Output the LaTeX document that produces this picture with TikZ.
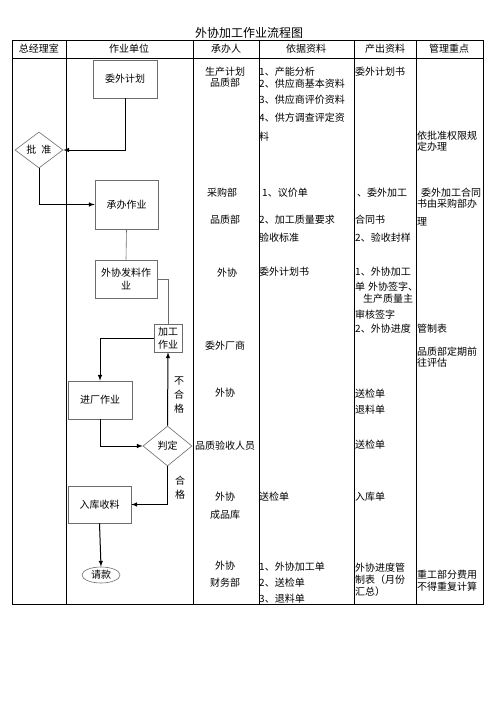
\documentclass[tikz,border=0pt]{standalone}
\usepackage{fontspec}
\setmainfont{Noto Sans CJK SC}
\usepackage{tikz}
\usetikzlibrary{shapes.geometric}

\begin{document}
\begin{tikzpicture}[x=1pt, y=-1pt,
    font=\fontsize{10}{13}\selectfont,
    box/.style={draw=gray!85!black, line width=0.6pt, inner sep=0pt, align=center},
    flow/.style={line width=1pt, -latex},
    link/.style={draw=gray!85!black, line width=0.6pt},
    grid/.style={line width=0.8pt},
    cell/.style={inner sep=0pt, anchor=west},
    who/.style={inner sep=0pt}]
        \useasboundingbox [fill=white] (0,0) rectangle (500,707);

        % title and table
        \node (title) at (249,33) {\fontsize{12}{14}\selectfont 外协加工作业流程图};
        \draw [grid] (12,40) rectangle (483,604);
        \draw [grid] (12,58)  -- (483,58);
        \draw [grid] (66,40)  -- (66,604);
        \draw [grid] (193,40) -- (193,604);
        \draw [grid] (259,40) -- (259,604);
        \draw [grid] (354,40) -- (354,604);
        \draw [grid] (416,40) -- (416,604);

        \node [who] (head1) at (39,49)  {总经理室};
        \node [who] (head2) at (129,49) {作业单位};
        \node [who] (head3) at (226,49) {承办人};
        \node [who] (head4) at (306,49) {依据资料};
        \node [who] (head5) at (385,49) {产出资料};
        \node [who] (head6) at (449,49) {管理重点};

        % flow chart
        \node [box, minimum width=64pt, minimum height=38pt] (plan) at (125,79) {委外计划};
        \node [box, diamond, aspect=1.33, minimum width=48pt, minimum height=36pt] (approve) at (39,150) {批\hspace{5pt}准};
        \node [box, minimum width=63pt, minimum height=49pt] (undertake) at (126.5,204.5) {承办作业};
        \node [box, minimum width=62pt, minimum height=38pt] (issue) at (126,279) {外协发料作\\业};
        \node [box, minimum width=28pt, minimum height=28pt] (process) at (168,338) {加工\\作业};
        \node [box, minimum width=64pt, minimum height=38pt] (enter) at (100,400) {进厂作业};
        \node [box, diamond, aspect=1.2, minimum width=49pt, minimum height=40pt] (judge) at (167.5,446) {判定};
        \node [box, minimum width=63pt, minimum height=37pt] (store) at (99.5,504.5) {入库收料};
        \node [box, ellipse, minimum width=38pt, minimum height=16pt] (pay) at (101,575) {请款};

        \draw [flow] (plan.south) |- (approve.east);
        \draw [flow] (approve.south) |- (undertake.west);
        \draw [link] (undertake.south) -- (issue.north);
        \draw [link] (issue.east) -| (process.north);
        \draw [flow] (process.west) -| (enter.north);
        \draw [flow] (enter.south) |- (judge.west);
        \draw [flow] (judge.north) -- (process.south);
        \draw [flow] (judge.south) |- (store.east);
        \draw [flow] (store.south) -- (pay.north);

        \node [who, align=center, font=\fontsize{10}{14}\selectfont] (fail) at (179,395) {不\\合\\格};
        \node [who, align=center, font=\fontsize{10}{14}\selectfont] (pass) at (180,488) {合\\格};

        % 承办人
        \node [who] (owner1)  at (225,72)  {生产计划};
        \node [who] (owner2)  at (225,83)  {品质部};
        \node [who] (owner3)  at (222,193) {采购部};
        \node [who] (owner4)  at (225,220) {品质部};
        \node [who] (owner5)  at (227,273) {外协};
        \node [who] (owner6)  at (225,346) {委外厂商};
        \node [who] (owner7)  at (225,393) {外协};
        \node [who] (owner8)  at (225,446) {品质验收人员};
        \node [who] (owner9)  at (225,497) {外协};
        \node [who] (owner10) at (225,515) {成品库};
        \node [who] (owner11) at (225,566) {外协};
        \node [who] (owner12) at (225,583) {财务部};

        % 依据资料
        \node [cell] (basis1)  at (259,72)  {1、产能分析};
        \node [cell] (basis2)  at (259,84)  {2、供应商基本资料};
        \node [cell] (basis3)  at (259,100) {3、供应商评价资料};
        \node [cell] (basis4)  at (259,118) {4、供方调查评定资};
        \node [cell] (basis5)  at (259,137) {料};
        \node [cell] (basis6)  at (262,193) {1、议价单};
        \node [cell] (basis7)  at (259,220) {2、加工质量要求};
        \node [cell] (basis8)  at (259,238) {验收标准};
        \node [cell] (basis9)  at (259,272) {委外计划书};
        \node [cell] (basis10) at (259,497) {送检单};
        \node [cell] (basis11) at (259,567) {1、外协加工单};
        \node [cell] (basis12) at (259,583) {2、送检单};
        \node [cell] (basis13) at (259,599) {3、退料单};

        % 产出资料
        \node [cell] (output1)  at (355,72)  {委外计划书};
        \node [cell] (output2)  at (357,193) {、委外加工};
        \node [cell] (output3)  at (355,220) {合同书};
        \node [cell] (output4)  at (355,238) {2、验收封样};
        \node [cell] (output5)  at (355,272) {1、外协加工};
        \node [cell] (output6)  at (355,287) {单\hspace{3pt}外协签字、};
        \node [cell] (output7)  at (363,299) {生产质量主};
        \node [cell] (output8)  at (355,315) {审核签字};
        \node [cell] (output9)  at (355,329) {2、外协进度};
        \node [cell] (output10) at (355,394) {送检单};
        \node [cell] (output11) at (355,410) {退料单};
        \node [cell] (output12) at (355,445) {送检单};
        \node [cell] (output13) at (355,497) {入库单};
        \node [cell] (output14) at (355,568) {外协进度管};
        \node [cell] (output15) at (355,580) {制表（月份};
        \node [cell] (output16) at (355,592) {汇总）};

        % 管理重点
        \node [cell] (focus1)  at (417,136) {依批准权限规};
        \node [cell] (focus2)  at (417,147) {定办理};
        \node [cell] (focus3)  at (421,193) {委外加工合同};
        \node [cell] (focus4)  at (417,204) {书由采购部办};
        \node [cell] (focus5)  at (417,222) {理};
        \node [cell] (focus6)  at (417,329) {管制表};
        \node [cell] (focus7)  at (417,352) {品质部定期前};
        \node [cell] (focus8)  at (417,363) {往评估};
        \node [cell] (focus9)  at (417,575) {重工部分费用};
        \node [cell] (focus10) at (417,587) {不得重复计算};
      \end{tikzpicture}
\end{document}
